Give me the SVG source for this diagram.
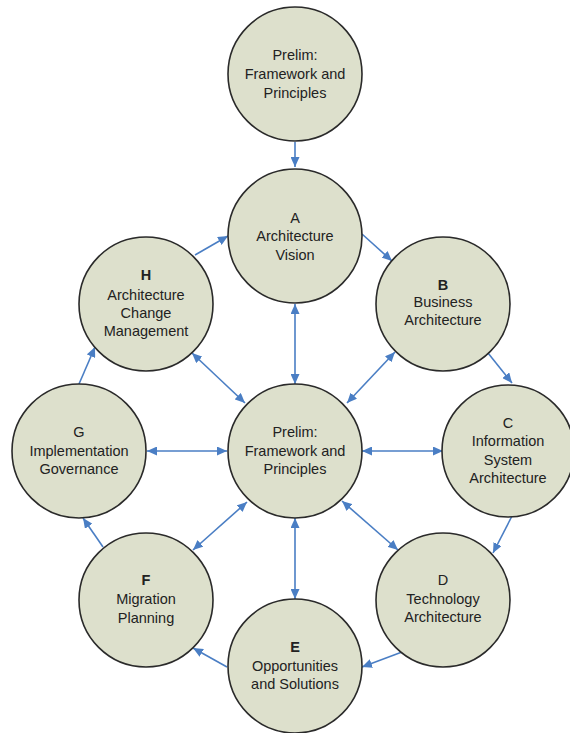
<svg xmlns="http://www.w3.org/2000/svg" width="570" height="733" viewBox="0 0 570 733">
<style>
.n{fill:#dde0cc;stroke:#2a2a2a;stroke-width:1.6}
.t{font-family:"Liberation Sans",Arial,sans-serif;font-size:14.5px;fill:#222;text-anchor:middle}
.b{font-weight:bold}
.c{stroke:#4a7ec4;stroke-width:1.6;fill:none}
</style>
<defs>
<marker id="ah" markerUnits="userSpaceOnUse" markerWidth="11" markerHeight="9" refX="10" refY="4.5" orient="auto-start-reverse">
<path d="M0,0 L10,4.5 L0,9 z" fill="#4a7ec4"/>
</marker>
</defs>
<rect width="570" height="733" fill="#fff"/>
<g id="connectors">
<line class="c" x1="295" y1="142" x2="295" y2="167" marker-end="url(#ah)"/>
<line class="c" x1="362" y1="234" x2="392" y2="261" marker-end="url(#ah)"/>
<line class="c" x1="488" y1="353" x2="512" y2="383" marker-end="url(#ah)"/>
<line class="c" x1="512" y1="516" x2="493" y2="553" marker-end="url(#ah)"/>
<line class="c" x1="402" y1="652" x2="362" y2="667" marker-end="url(#ah)"/>
<line class="c" x1="227" y1="667" x2="193" y2="648" marker-end="url(#ah)"/>
<line class="c" x1="103" y1="547" x2="83" y2="518" marker-end="url(#ah)"/>
<line class="c" x1="79" y1="384" x2="95" y2="347" marker-end="url(#ah)"/>
<line class="c" x1="195" y1="255" x2="228" y2="236" marker-end="url(#ah)"/>
<line class="c" x1="295" y1="304" x2="295" y2="384" marker-start="url(#ah)" marker-end="url(#ah)"/>
<line class="c" x1="347" y1="403" x2="395" y2="352" marker-start="url(#ah)" marker-end="url(#ah)"/>
<line class="c" x1="192" y1="353" x2="245" y2="403" marker-start="url(#ah)" marker-end="url(#ah)"/>
<line class="c" x1="147" y1="451" x2="227" y2="451" marker-start="url(#ah)" marker-end="url(#ah)"/>
<line class="c" x1="362" y1="451" x2="443" y2="451" marker-start="url(#ah)" marker-end="url(#ah)"/>
<line class="c" x1="193" y1="550" x2="247" y2="502" marker-start="url(#ah)" marker-end="url(#ah)"/>
<line class="c" x1="342" y1="501" x2="398" y2="550" marker-start="url(#ah)" marker-end="url(#ah)"/>
<line class="c" x1="295" y1="518" x2="295" y2="599" marker-start="url(#ah)" marker-end="url(#ah)"/>
</g>
<g id="prelim-top">
<circle class="n" cx="295" cy="74" r="67"/>
<text class="t" x="295" y="60">Prelim:</text>
<text class="t" x="295" y="79">Framework and</text>
<text class="t" x="295" y="98">Principles</text>
</g>
<g id="A">
<circle class="n" cx="295" cy="236" r="67"/>
<text class="t" x="295" y="223">A</text>
<text class="t" x="295" y="241">Architecture</text>
<text class="t" x="295" y="260">Vision</text>
</g>
<g id="H">
<circle class="n" cx="146" cy="304" r="67"/>
<text class="t b" x="146" y="280">H</text>
<text class="t" x="146" y="300">Architecture</text>
<text class="t" x="146" y="318">Change</text>
<text class="t" x="146" y="336">Management</text>
</g>
<g id="B">
<circle class="n" cx="443" cy="304" r="67"/>
<text class="t b" x="443" y="290">B</text>
<text class="t" x="443" y="307">Business</text>
<text class="t" x="443" y="325">Architecture</text>
</g>
<g id="G">
<circle class="n" cx="79" cy="451" r="67"/>
<text class="t" x="79" y="437">G</text>
<text class="t" x="79" y="456">Implementation</text>
<text class="t" x="79" y="474">Governance</text>
</g>
<g id="prelim-center">
<circle class="n" cx="295" cy="451" r="67"/>
<text class="t" x="295" y="437">Prelim:</text>
<text class="t" x="295" y="456">Framework and</text>
<text class="t" x="295" y="474">Principles</text>
</g>
<g id="C">
<circle class="n" cx="508" cy="451" r="66"/>
<text class="t" x="508" y="428">C</text>
<text class="t" x="508" y="446">Information</text>
<text class="t" x="508" y="465">System</text>
<text class="t" x="508" y="483">Architecture</text>
</g>
<g id="F">
<circle class="n" cx="146" cy="600" r="67"/>
<text class="t b" x="146" y="585">F</text>
<text class="t" x="146" y="604">Migration</text>
<text class="t" x="146" y="623">Planning</text>
</g>
<g id="D">
<circle class="n" cx="443" cy="600" r="67"/>
<text class="t" x="443" y="585">D</text>
<text class="t" x="443" y="604">Technology</text>
<text class="t" x="443" y="622">Architecture</text>
</g>
<g id="E">
<circle class="n" cx="295" cy="666" r="67"/>
<text class="t b" x="295" y="652">E</text>
<text class="t" x="295" y="671">Opportunities</text>
<text class="t" x="295" y="689">and Solutions</text>
</g>
</svg>
